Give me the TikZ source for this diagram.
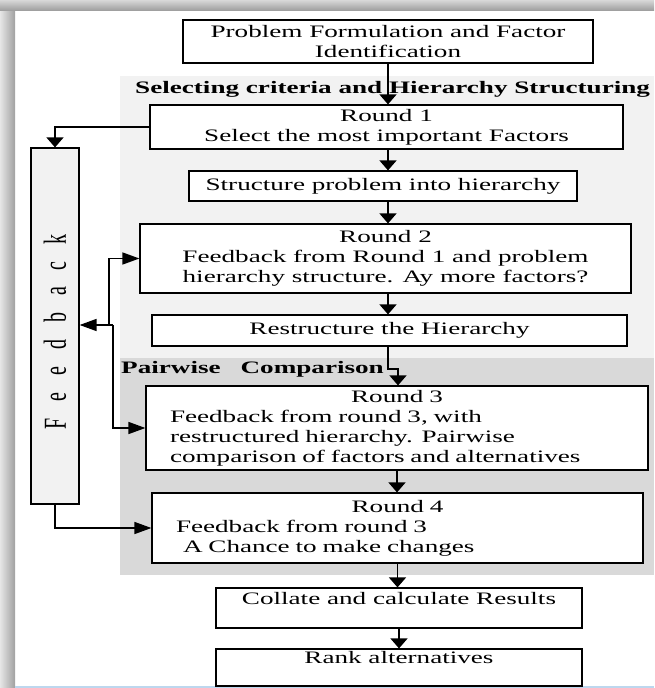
\documentclass[tikz,border=0pt]{standalone}
\usepackage{fontspec}
\usepackage{graphicx}
\setmainfont{Liberation Serif}[FakeStretch=1.55]
\newfontfamily\plainserif{Liberation Serif}
\usetikzlibrary{arrows.meta}

\definecolor{panelA}{HTML}{F2F2F2}
\definecolor{panelB}{HTML}{D9D9D9}
\definecolor{edgeblue}{HTML}{BDD7EE}
\definecolor{shadeLight}{HTML}{E6E6E6}
\definecolor{shadeDark}{HTML}{A0A0A0}

\begin{document}
\begin{tikzpicture}[x=1pt, y=-1pt,
  txt/.style={font=\fontsize{17.5pt}{20pt}\selectfont},
  heading/.style={font=\fontsize{17.5pt}{20pt}\selectfont\bfseries, inner sep=0pt, anchor=base west},
  stepbox/.style={draw=black, line width=1.2pt, fill=white, inner sep=0pt, txt, align=center},
  vflow/.style={line width=1.5pt, -{Triangle[length=10pt,width=17pt]}},
  hflow/.style={line width=1.5pt, -{Triangle[length=17pt,width=12pt]}}
]
\useasboundingbox (0,0) rectangle (654,688);

% page frame with soft shadow on the left and top
\fill[white] (0,0) rectangle (654,688);
\shade[left color=shadeLight, right color=shadeDark] (0,0) rectangle (15,688);
\shade[top color=shadeLight!80!shadeDark, bottom color=shadeDark] (0,0) rectangle (654,10);
\fill[edgeblue] (15,686) rectangle (654,688);

% stage panels
\fill[panelA] (120,76) rectangle (654,358);
\fill[panelB] (120,358) rectangle (654,575);

\node[heading] (stageA) at (135,93) {Selecting criteria and Hierarchy Structuring};
\node[heading] (stageB) at (121,373) {Pairwise\hspace{20pt}Comparison};

% process boxes
\node[stepbox, minimum width=410, minimum height=43] (prob) at (388,41.5)
  {Problem Formulation and Factor\\Identification};
\node[stepbox, minimum width=473, minimum height=44] (r1) at (386.5,127)
  {Round 1\\Select the most important Factors};
\node[stepbox, minimum width=388, minimum height=30] (struct) at (383,186)
  {Structure problem into hierarchy};
\node[stepbox, minimum width=491, minimum height=69] (r2) at (385.5,258.5)
  {Round 2\\Feedback from Round 1 and problem\\hierarchy structure. Ay more factors?};
\node[stepbox, minimum width=475, minimum height=31] (restr) at (389.5,330.5)
  {Restructure the Hierarchy};
\node[stepbox, minimum width=502, minimum height=84, text width=454, align=left] (r3) at (397,428)
  {\makebox[\linewidth]{Round 3}\\Feedback from round 3, with\\restructured hierarchy. Pairwise\\comparison of factors and alternatives};
\node[stepbox, minimum width=491, minimum height=70, text width=443, align=left] (r4) at (397.5,528)
  {\makebox[\linewidth]{Round 4}\\Feedback from round 3\\\hspace*{7pt}A Chance to make changes};
\node[stepbox, minimum width=366, minimum height=40] (coll) at (399,608)
  {Collate and calculate Results\\\mbox{}};
\node[stepbox, minimum width=366, minimum height=37] (rank) at (399,667.5)
  {Rank alternatives\\\mbox{}};

% feedback column, letters set upright along the column and widened across it
\node[stepbox, fill=panelA, minimum width=48, minimum height=356] (fb) at (55,326)
  {\scalebox{1.6}[1]{\rotatebox{90}{\plainserif\fontsize{20pt}{22pt}\selectfont
   F\hspace{17pt}e\hspace{17pt}e\hspace{17pt}d\hspace{17pt}b\hspace{17pt}a\hspace{17pt}c\hspace{17pt}k\hspace{12pt}}}};

% main flow
\coordinate (col) at (388,0);
\coordinate (jog) at (398,369);
\draw[vflow] (prob.south) -- (prob.south |- r1.north);
\draw[vflow] (col |- r1.south) -- (col |- struct.north);
\draw[vflow] (col |- struct.south) -- (col |- r2.north);
\draw[vflow] (col |- r2.south) -- (col |- restr.north);
\draw[vflow] (col |- restr.south) |- (jog) -- (jog |- r3.north);
\draw[vflow] (r3.south) -- (r3.south |- r4.north);
\draw[vflow] (r4.south) -- (r4.south |- coll.north);
\draw[vflow] (coll.south) -- (coll.south |- rank.north);

% feedback loop
\coordinate (fbup) at (109,325);
\coordinate (fbdown) at (113,325);
\draw[vflow] (r1.west) -| (fb.north);
\draw[hflow] (fbdown) -- (fbdown -| fb.east);
\draw[hflow] (fbup) |- (r2.west);
\draw[hflow] (fbdown) |- (r3.west);
\draw[hflow] (fb.south) |- (r4.west);
\end{tikzpicture}
\end{document}
